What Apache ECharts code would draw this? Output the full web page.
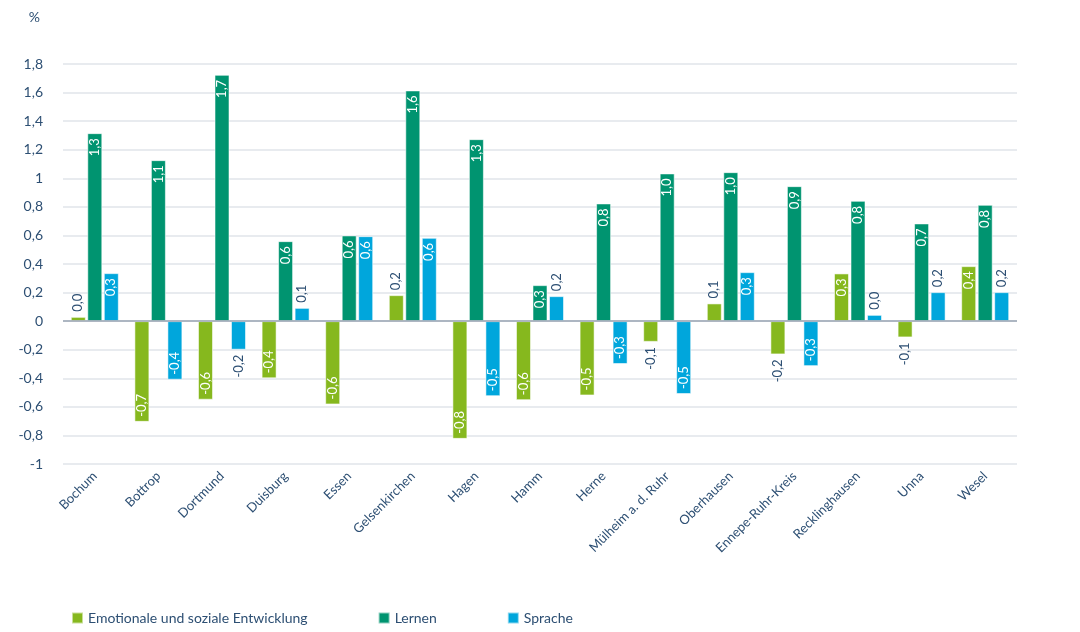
<!DOCTYPE html>
<html>
<head>
<meta charset="utf-8">
<script src="https://cdn.jsdelivr.net/npm/echarts@6/dist/echarts.min.js"></script>
<style>html,body{margin:0;padding:0;background:#fff;}#c{width:1080px;height:632px;}</style>
</head>
<body>
<div id="c"></div>
<script>
const categories = ['Bochum','Bottrop','Dortmund','Duisburg','Essen','Gelsenkirchen','Hagen','Hamm','Herne','Mülheim a. d. Ruhr','Oberhausen','Ennepe-Ruhr-Kreis','Recklinghausen','Unna','Wesel'];
const seriesNames = ['Emotionale und soziale Entwicklung','Lernen','Sprache'];
const emotional = [0.03,-0.705,-0.55,-0.40,-0.583,0.182,-0.824,-0.553,-0.52,-0.145,0.124,-0.233,0.334,-0.114,0.385];
const lernen = [1.316,1.127,1.724,0.56,0.60,1.615,1.274,0.252,0.824,1.034,1.043,0.945,0.842,0.684,0.814];
const sprache = [0.336,-0.41,-0.20,0.093,0.595,0.583,-0.525,0.175,-0.30,-0.51,0.343,-0.315,0.044,0.203,0.203];
const colors = ['#86b81e','#009470','#00a6dc'];

const fmt = v => v.toFixed(1).replace('.', ',');
const txt = '#2d4f73';

function buildData(arr){
  return arr.map(v => {
    const inside = Math.abs(v) >= 0.24;
    let label;
    if (inside) {
      label = v >= 0
        ? {position:'insideTop', align:'right', distance:5, color:'#fff'}
        : {position:'insideBottom', align:'left', distance:5, color:'#fff'};
    } else {
      label = v >= 0
        ? {position:'top', align:'left', distance:5, color:txt}
        : {position:'bottom', align:'right', distance:5, color:txt};
    }
    return {value:v, label:label};
  });
}

const seriesData = [emotional, lernen, sprache];
const chart = echarts.init(document.getElementById('c'));
chart.setOption({
  animation:false,
  textStyle:{fontFamily:'Lato'},
  grid:{left:63, right:63, top:64, bottom:168},
  legend:{
    left:66, top:606, itemWidth:11, itemHeight:11, itemGap:70,
    icon:'rect',
    textStyle:{color:txt, fontSize:14, fontFamily:'Lato'},
    data:seriesNames
  },
  xAxis:{
    type:'category', data:categories,
    axisLine:{show:false}, axisTick:{show:false},
    axisLabel:{rotate:45, color:txt, fontSize:13, margin:10, interval:0}
  },
  yAxis:{
    type:'value', min:-1, max:1.8, interval:0.2,
    name:'%', nameLocation:'end', nameGap:40,
    nameTextStyle:{color:txt, fontSize:14, align:'right', padding:[0,23,0,0]},
    axisLine:{show:false}, axisTick:{show:false},
    axisLabel:{color:txt, fontSize:14, margin:20,
      formatter:v => String(Math.round(v*10)/10).replace('.', ',')},
    splitLine:{lineStyle:{color:'#e8ebef', width:2}}
  },
  series: seriesNames.map((n,i) => ({
    name:n, type:'bar', data:buildData(seriesData[i]),
    barWidth:15, barGap:'10%',
    itemStyle:{color:colors[i], borderColor:'rgba(255,255,255,0.55)', borderWidth:1},
    label:{show:true, rotate:90, verticalAlign:'middle', fontSize:13, fontFamily:'Lato',
      formatter:p => fmt(p.value)},
    markLine: i === 0 ? {
      silent:true, symbol:'none', label:{show:false},
      lineStyle:{color:'#9aa5b3', width:1.5, type:'solid'},
      data:[{yAxis:0}]
    } : undefined
  }))
});
</script>
</body>
</html>
